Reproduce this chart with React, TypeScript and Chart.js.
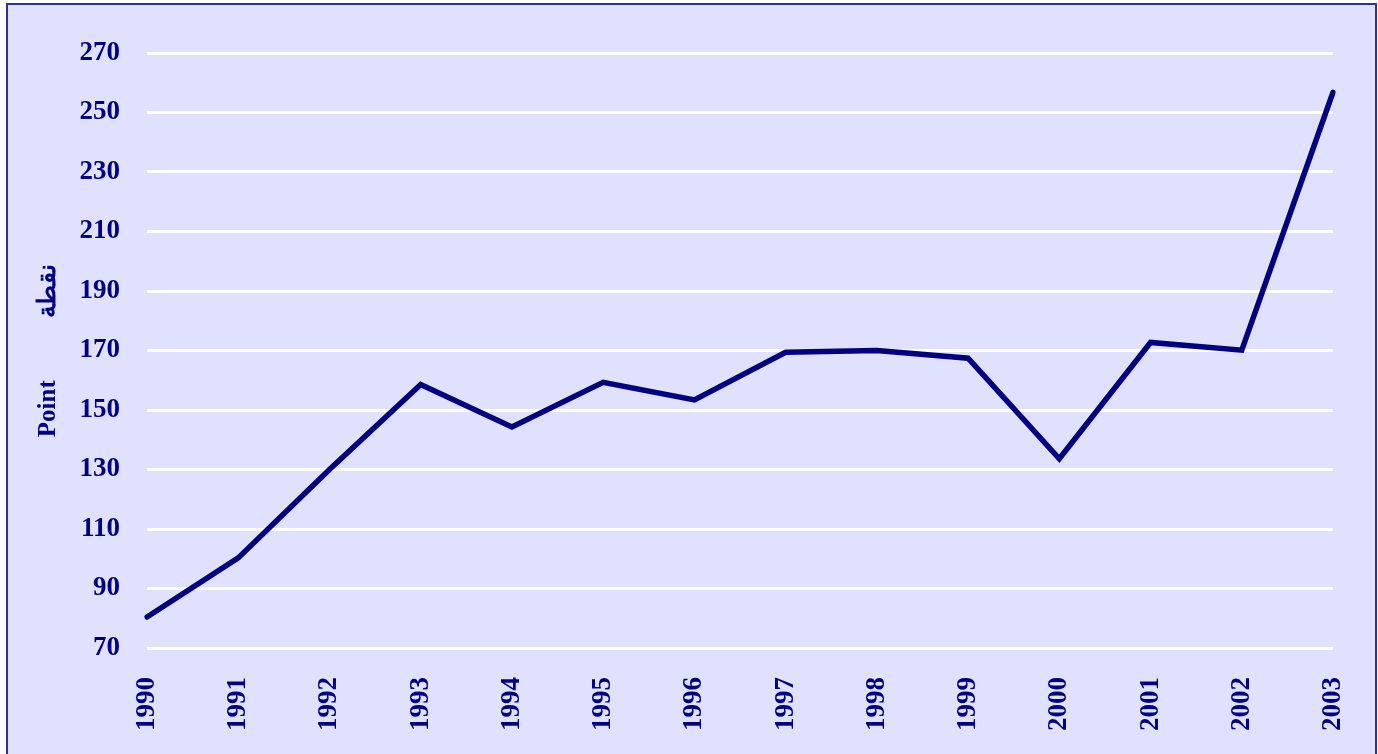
import React, { useEffect, useRef } from "react";
import { Chart, registerables } from "chart.js";

Chart.register(...registerables);

const years: string[] = ["1990", "1991", "1992", "1993", "1994", "1995", "1996", "1997", "1998", "1999", "2000", "2001", "2002", "2003"];
const points: number[] = [80.4, 100.3, 130, 158.6, 144.3, 159.3, 153.4, 169.4, 170, 167.4, 133.6, 172.7, 170.1, 256.8];
const yMin = 70;
const yMax = 270;
const yStep = 20;
const axisTitle = "Point          نقطة";

const NAVY = "#000080";
const FONT = "'Liberation Serif', 'Times New Roman', 'DejaVu Serif', serif";

export default function App() {
  const canvasRef = useRef<HTMLCanvasElement | null>(null);

  useEffect(() => {
    document.body.style.margin = "0";
    document.body.style.overflow = "hidden";
    const canvas = canvasRef.current;
    if (!canvas) return;
    const chart = new Chart(canvas, {
      type: "line",
      data: {
        labels: years,
        datasets: [
          {
            data: points,
            borderColor: NAVY,
            borderWidth: 5.5,
            pointRadius: 0,
            pointHoverRadius: 0,
            tension: 0,
            fill: false,
            borderCapStyle: "round",
            borderJoinStyle: "miter",
          },
        ],
      },
      options: {
        animation: false,
        responsive: false,
        maintainAspectRatio: false,
        events: [],
        layout: { padding: { left: 0, top: 53, right: 45, bottom: 0 } },
        plugins: { legend: { display: false }, tooltip: { enabled: false }, title: { display: false } },
        scales: {
          x: {
            offset: false,
            grid: { display: false, drawTicks: false },
            border: { display: false },
            ticks: {
              color: NAVY,
              font: { family: FONT, size: 27, weight: "bold" },
              minRotation: 90,
              maxRotation: 90,
              padding: 29,
              autoSkip: false,
            },
            afterFit: (s: any) => {
              s.height = 106;
              s.paddingLeft = 0;
              s.paddingRight = 0;
            },
          },
          y: {
            min: yMin,
            max: yMax,
            grid: { color: "#FFFFFF", lineWidth: 3, drawTicks: false },
            border: { display: false },
            ticks: {
              stepSize: yStep,
              color: NAVY,
              font: { family: FONT, size: 27, weight: "bold" },
              padding: 27,
            },
            title: {
              display: true,
              text: axisTitle,
              color: NAVY,
              font: { family: FONT, size: 25, weight: "bold" },
              padding: { top: 34, bottom: 0 },
            },
            afterFit: (s: any) => {
              s.width = 147;
            },
          },
        },
      },
    });
    return () => chart.destroy();
  }, []);

  return (
    <div style={{ position: "fixed", left: 0, top: 0, width: 1378, height: 754, overflow: "hidden", background: "#FFFFFF" }}>
      <div
        style={{
          position: "absolute",
          left: 6,
          top: 3,
          width: 1367,
          height: 800,
          border: "2px solid #30309A",
          background: "#E0E0FF",
        }}
      />
      <canvas ref={canvasRef} width={1378} height={754} style={{ position: "absolute", left: 0, top: 0, width: 1378, height: 754 }} />
    </div>
  );
}
